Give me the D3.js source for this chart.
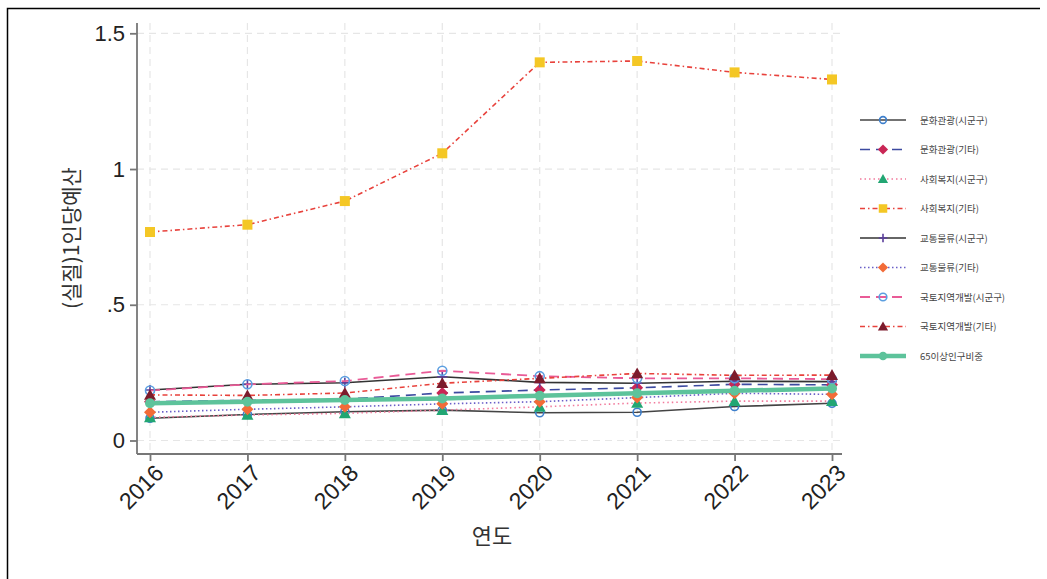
<!DOCTYPE html>
<html>
<head>
<meta charset="utf-8">
<script src="https://cdn.jsdelivr.net/npm/d3@7"></script>
<style>
  body { margin: 0; background: #fff; }
  svg { display: block; font-family: "Liberation Sans", "Noto Sans CJK KR", sans-serif; }
</style>
</head>
<body>
<div id="chart"></div>
<script>
// years and values
const years = [2016, 2017, 2018, 2019, 2020, 2021, 2022, 2023];
const yTicks = [0, 0.5, 1, 1.5];
const yTickLabels = ["0", ".5", "1", "1.5"];

const seriesNames = [
    "문화관광(시군구)", "문화관광(기타)", "사회복지(시군구)", "사회복지(기타)",
    "교통물류(시군구)", "교통물류(기타)", "국토지역개발(시군구)", "국토지역개발(기타)",
    "65이상인구비중"
];
const cultureSigungu = [0.082, 0.096, 0.106, 0.112, 0.102, 0.104, 0.125, 0.137];
const cultureOther = [0.143, 0.148, 0.152, 0.175, 0.186, 0.194, 0.207, 0.205];
const welfareSigungu = [0.085, 0.094, 0.100, 0.112, 0.124, 0.138, 0.145, 0.145];
const welfareOther = [0.768, 0.795, 0.882, 1.058, 1.393, 1.398, 1.356, 1.330];
const trafficSigungu = [0.186, 0.207, 0.213, 0.235, 0.214, 0.211, 0.218, 0.217];
const trafficOther = [0.104, 0.115, 0.124, 0.135, 0.143, 0.158, 0.174, 0.170];
const landSigungu = [0.184, 0.207, 0.219, 0.257, 0.237, 0.229, 0.229, 0.226];
const landOther = [0.168, 0.166, 0.175, 0.211, 0.229, 0.247, 0.240, 0.241];
const elderShare = [0.137, 0.143, 0.149, 0.155, 0.165, 0.174, 0.183, 0.192];

const values = [cultureSigungu, cultureOther, welfareSigungu, welfareOther,
    trafficSigungu, trafficOther, landSigungu, landOther, elderShare];

// line / marker styles, same order as seriesNames
const styles = [
    {line: "#444444", dash: null, width: 1.6, shape: "circle", fill: "none", mark: "#3d7fcc", size: 4},
    {line: "#3c4aa0", dash: "10,6", width: 1.6, shape: "diamond", fill: "#c92655", mark: "#c92655", size: 6},
    {line: "#f27a9c", dash: "1.5,3", width: 1.6, shape: "triangle", fill: "#22a673", mark: "#22a673", size: 6},
    {line: "#e8423c", dash: "5,3,1.5,3", width: 1.6, shape: "square", fill: "#f4c725", mark: "#f4c725", size: 5},
    {line: "#333333", dash: null, width: 1.6, shape: "plus", fill: "none", mark: "#5b3f9c", size: 5},
    {line: "#6a5fc8", dash: "1.5,2.5", width: 1.6, shape: "diamond", fill: "#f26b38", mark: "#f26b38", size: 6},
    {line: "#e95b97", dash: "10,6", width: 1.8, shape: "circle", fill: "none", mark: "#5c9fe0", size: 4.5},
    {line: "#e8423c", dash: "5,3,1.5,3", width: 1.6, shape: "triangle", fill: "#7c1b2c", mark: "#7c1b2c", size: 6},
    {line: "#5dc39b", dash: null, width: 4.5, shape: "circle", fill: "#5dc39b", mark: "#5dc39b", size: 5}
];

const W = 1047, H = 579;
const plot = {left: 137, right: 842, top: 23, bottom: 454};

const svg = d3.select("#chart").append("svg")
    .attr("width", W)
    .attr("height", H);

// outer frame
svg.append("path")
    .attr("d", "M7.5,579 V8.5 H1040")
    .attr("fill", "none")
    .attr("stroke", "#000")
    .attr("stroke-width", 1.5);

const x = d3.scalePoint()
    .domain(years)
    .range([150, 832]);

const y = d3.scaleLinear()
    .domain([0, 1.5])
    .range([440.5, 33.3]);

// grid
const grid = svg.append("g").attr("stroke", "#e6e6e6").attr("stroke-dasharray", "7,5").attr("stroke-width", 1.2);
grid.selectAll(".gy").data(yTicks).enter().append("line")
    .attr("x1", plot.left).attr("x2", plot.right)
    .attr("y1", d => y(d)).attr("y2", d => y(d));
grid.selectAll(".gx").data(years).enter().append("line")
    .attr("x1", d => x(d)).attr("x2", d => x(d))
    .attr("y1", plot.top).attr("y2", plot.bottom);

// axes
const yAxis = svg.append("g")
    .attr("transform", "translate(" + plot.left + ",0)")
    .call(d3.axisLeft(y).tickValues(yTicks).tickFormat((d, i) => yTickLabels[i]).tickSize(7).tickPadding(5));
yAxis.select(".domain").attr("d", "M0," + plot.top + "V" + plot.bottom);

const xAxis = svg.append("g")
    .attr("transform", "translate(0," + plot.bottom + ")")
    .call(d3.axisBottom(x).tickSize(7).tickPadding(3));
xAxis.select(".domain").attr("d", "M" + plot.left + ",0H" + plot.right);
xAxis.selectAll("text")
    .attr("text-anchor", "end")
    .attr("transform", "translate(-4,2) rotate(-45)")
    .attr("dy", "0.7em");

[yAxis, xAxis].forEach(a => {
    a.selectAll(".domain, line").attr("stroke", "#777").attr("stroke-width", 1.8);
    a.selectAll("text").attr("fill", "#222").style("font-size", "22px")
        .style("font-family", "'Liberation Sans', sans-serif");
});
xAxis.selectAll("text").style("font-size", "23px");

// axis titles
svg.append("text")
    .attr("transform", "translate(79,238) rotate(-90)")
    .attr("text-anchor", "middle")
    .attr("fill", "#333")
    .style("font-size", "21px")
    .style("font-family", "'Noto Sans CJK KR', sans-serif")
    .text("(실질)1인당예산");

svg.append("text")
    .attr("x", 492).attr("y", 544)
    .attr("text-anchor", "middle")
    .attr("fill", "#333")
    .style("font-size", "22px")
    .style("font-family", "'Noto Sans CJK KR', sans-serif")
    .text("연도");

function drawMarker(g, s, cx, cy) {
    const r = s.size;
    if (s.shape === "circle") {
        g.append("circle").attr("cx", cx).attr("cy", cy).attr("r", r)
            .attr("fill", s.fill).attr("stroke", s.mark).attr("stroke-width", s.fill === "none" ? 1.6 : 0);
    } else if (s.shape === "diamond") {
        g.append("path").attr("d", `M${cx},${cy - r}L${cx + r},${cy}L${cx},${cy + r}L${cx - r},${cy}Z`)
            .attr("fill", s.fill);
    } else if (s.shape === "triangle") {
        g.append("path").attr("d", `M${cx},${cy - r}L${cx + r},${cy + r * 0.8}L${cx - r},${cy + r * 0.8}Z`)
            .attr("fill", s.fill);
    } else if (s.shape === "square") {
        g.append("rect").attr("x", cx - r).attr("y", cy - r).attr("width", 2 * r).attr("height", 2 * r)
            .attr("fill", s.fill);
    } else if (s.shape === "plus") {
        g.append("path").attr("d", `M${cx - r},${cy}H${cx + r}M${cx},${cy - r}V${cy + r}`)
            .attr("stroke", s.mark).attr("stroke-width", 1.6);
    }
}

const line = d3.line().x((d, i) => x(years[i])).y(d => y(d));

// series
values.forEach((vals, k) => {
    const s = styles[k];
    const g = svg.append("g");
    g.append("path")
        .attr("d", line(vals))
        .attr("fill", "none")
        .attr("stroke", s.line)
        .attr("stroke-width", s.width)
        .attr("stroke-dasharray", s.dash);
    vals.forEach((v, i) => drawMarker(g, s, x(years[i]), y(v)));
});

// legend
const legend = svg.append("g");
seriesNames.forEach((name, k) => {
    const s = styles[k];
    const ly = 120 + k * 29.5;
    const g = legend.append("g");
    g.append("line")
        .attr("x1", 860).attr("x2", 906)
        .attr("y1", ly).attr("y2", ly)
        .attr("stroke", s.line)
        .attr("stroke-width", s.width)
        .attr("stroke-dasharray", s.dash);
    drawMarker(g, Object.assign({}, s, {size: s.size * 0.85}), 883, ly);
    g.append("text")
        .attr("x", 920).attr("y", ly + 3.5)
        .attr("fill", "#444")
        .style("font-size", "9.5px")
        .style("font-family", "'Noto Sans CJK KR', sans-serif")
        .text(name);
});
</script>
</body>
</html>
